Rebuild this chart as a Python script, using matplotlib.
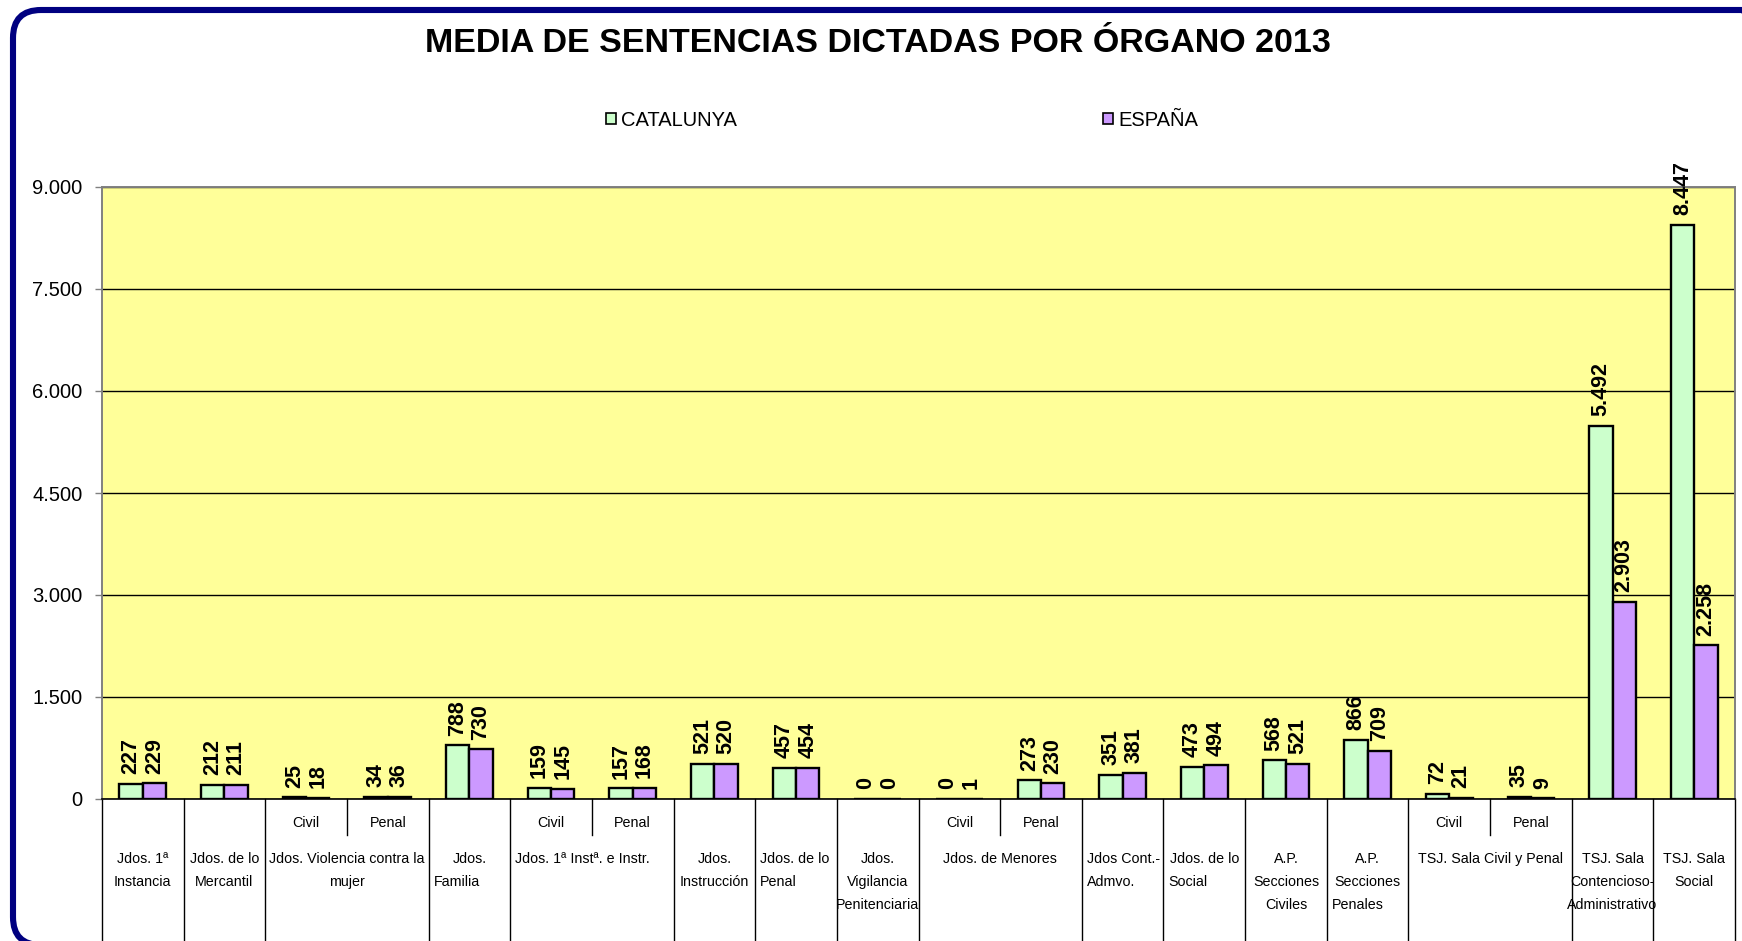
import matplotlib
matplotlib.use("Agg")
import matplotlib.pyplot as plt
from matplotlib import font_manager
from matplotlib.patches import FancyBboxPatch, Patch
from matplotlib.transforms import blended_transform_factory
import numpy as np

# ---------------- data ----------------
title = "MEDIA DE SENTENCIAS DICTADAS POR ÓRGANO 2013"
series_names = ["CATALUNYA", "ESPAÑA"]
catalunya = [227, 212, 25, 34, 788, 159, 157, 521, 457, 0, 0, 273, 351, 473, 568, 866, 72, 35, 5492, 8447]
espana = [229, 211, 18, 36, 730, 145, 168, 520, 454, 0, 1, 230, 381, 494, 521, 709, 21, 9, 2903, 2258]
sub_labels = ["", "", "Civil", "Penal", "", "Civil", "Penal", "", "", "",
              "Civil", "Penal", "", "", "", "", "Civil", "Penal", "", ""]
group_spans = [(0, 0), (1, 1), (2, 3), (4, 4), (5, 6), (7, 7), (8, 8), (9, 9), (10, 11),
               (12, 12), (13, 13), (14, 14), (15, 15), (16, 17), (18, 18), (19, 19)]
group_labels = [["Jdos. 1ª", "Instancia"], ["Jdos. de lo", "Mercantil"],
                ["Jdos. Violencia contra la", "mujer"], ["Jdos.", "Familia"],
                ["Jdos. 1ª Instª. e Instr."], ["Jdos.", "Instrucción"],
                ["Jdos. de lo", "Penal"], ["Jdos.", "Vigilancia", "Penitenciaria"],
                ["Jdos. de Menores"], ["Jdos Cont.-", "Admvo."], ["Jdos. de lo", "Social"],
                ["A.P.", "Secciones", "Civiles"], ["A.P.", "Secciones", "Penales"],
                ["TSJ. Sala Civil y Penal"], ["TSJ. Sala", "Contencioso-", "Administrativo"],
                ["TSJ. Sala", "Social"]]
y_ticks = [0, 1500, 3000, 4500, 6000, 7500, 9000]

# alignment style per label line ('c' centered, 'l' left)
label_align = [["c", "c"], ["c", "c"], ["c", "c"], ["c", "l"], ["l"], ["c", "c"],
               ["l", "l"], ["c", "c", "c"], ["c"], ["l", "l"], ["c", "l"],
               ["c", "c", "c"], ["c", "c", "l"], ["c"], ["c", "c", "c"], ["c", "c"]]

# ---------------- style ----------------
W, H = 1742, 941
plt.rcParams["font.family"] = ["Liberation Sans", "DejaVu Sans"]

def has_font(name):
    try:
        font_manager.findfont(font_manager.FontProperties(family=name), fallback_to_default=False)
        return True
    except Exception:
        return False

if has_font("Liberation Sans Narrow"):
    cat_family = ["Liberation Sans Narrow", "Liberation Sans", "DejaVu Sans"]
    cat_size = 12.0
else:
    cat_family = ["Liberation Sans", "DejaVu Sans"]
    cat_size = 10.3

fig = plt.figure(figsize=(W / 100, H / 100), dpi=100)
fig.patch.set_facecolor("white")

left, right, top, bottom = 102, 1735, 187, 799
ax = fig.add_axes([left / W, 1 - bottom / H, (right - left) / W, (bottom - top) / H])
ax.set_facecolor("#FFFF99")

n = len(catalunya)
x = np.arange(n)
bw = 1 / 3.5
b1 = ax.bar(x - bw / 2, catalunya, bw, color="#CCFFCC", edgecolor="black", linewidth=1.7, zorder=3,
            label=series_names[0])
b2 = ax.bar(x + bw / 2, espana, bw, color="#CC99FF", edgecolor="black", linewidth=1.7, zorder=3,
            label=series_names[1])

def fmt(v):
    return f"{v:,}".replace(",", ".")

for bars, vals in ((b1, catalunya), (b2, espana)):
    for rect, v in zip(bars, vals):
        ax.annotate(fmt(v), (rect.get_x() + rect.get_width() / 2, v), xytext=(0, 7),
                    textcoords="offset points", rotation=90, ha="center", va="bottom",
                    fontsize=15.5, fontweight="bold", zorder=4, annotation_clip=False)

ax.set_xlim(-0.5, n - 0.5)
ax.set_ylim(0, 9000)
ax.set_yticks(y_ticks)
ax.set_yticklabels([fmt(t) for t in y_ticks], fontsize=14.5)
ax.tick_params(axis="y", length=5, width=1, color="#808080", pad=9)
ax.set_xticks([])
ax.yaxis.grid(True, color="black", linewidth=1.0, zorder=1)
ax.set_axisbelow(True)
for s in ("top", "right", "left"):
    ax.spines[s].set_color("#808080")
    ax.spines[s].set_linewidth(1.4)
ax.spines["bottom"].set_color("black")
ax.spines["bottom"].set_linewidth(1.2)

# ---------------- category table below axis ----------------
tr = blended_transform_factory(ax.transData, ax.transAxes)
ah = bottom - top
def ay(py):
    return -(py - bottom) / ah

y_bot = ay(H + 2)
bounds = [s - 0.5 for s, e in group_spans] + [n - 0.5]
for b in bounds:
    ax.plot([b, b], [0, y_bot], transform=tr, color="black", lw=1.0, clip_on=False)
for (s, e) in group_spans:
    if e > s:
        for k in range(s + 1, e + 1):
            ax.plot([k - 0.5, k - 0.5], [0, ay(835)], transform=tr, color="black", lw=1.0, clip_on=False)

for k, lab in enumerate(sub_labels):
    if lab:
        ax.text(k, ay(823), lab, transform=tr, ha="center", va="center",
                fontsize=cat_size, family=cat_family)

line_y = [ay(859), ay(882), ay(905)]
for (s, e), lines, al in zip(group_spans, group_labels, label_align):
    for i, (t, a) in enumerate(zip(lines, al)):
        if a == "c":
            ax.text((s + e) / 2, line_y[i], t, transform=tr, ha="center", va="center",
                    fontsize=cat_size, family=cat_family)
        else:
            ax.text(s - 0.5 + 0.06, line_y[i], t, transform=tr, ha="left", va="center",
                    fontsize=cat_size, family=cat_family)

# ---------------- title & legend ----------------
fig.text(878 / W, 1 - 44 / H, title, ha="center", va="center", fontsize=24.5, fontweight="bold")

for bars, name, px in ((b1, series_names[0], 606), (b2, series_names[1], 1103)):
    lg = fig.legend(handles=[Patch(facecolor=bars[0].get_facecolor(), edgecolor="black", linewidth=1.2)],
                    labels=[name], loc="center left", bbox_to_anchor=(px / W, 1 - 120 / H),
                    frameon=False, fontsize=14.5, handlelength=0.5, handleheight=0.5,
                    handletextpad=0.25, borderpad=0, borderaxespad=0)

# ---------------- outer rounded frame ----------------
frame = FancyBboxPatch((13, -4), 1757, 935, boxstyle="round,pad=0,rounding_size=28",
                       transform=None, facecolor="none", edgecolor="#000080", linewidth=4.4,
                       zorder=10)
fig.patches.append(frame)

fig.savefig("out.png", dpi=100)
